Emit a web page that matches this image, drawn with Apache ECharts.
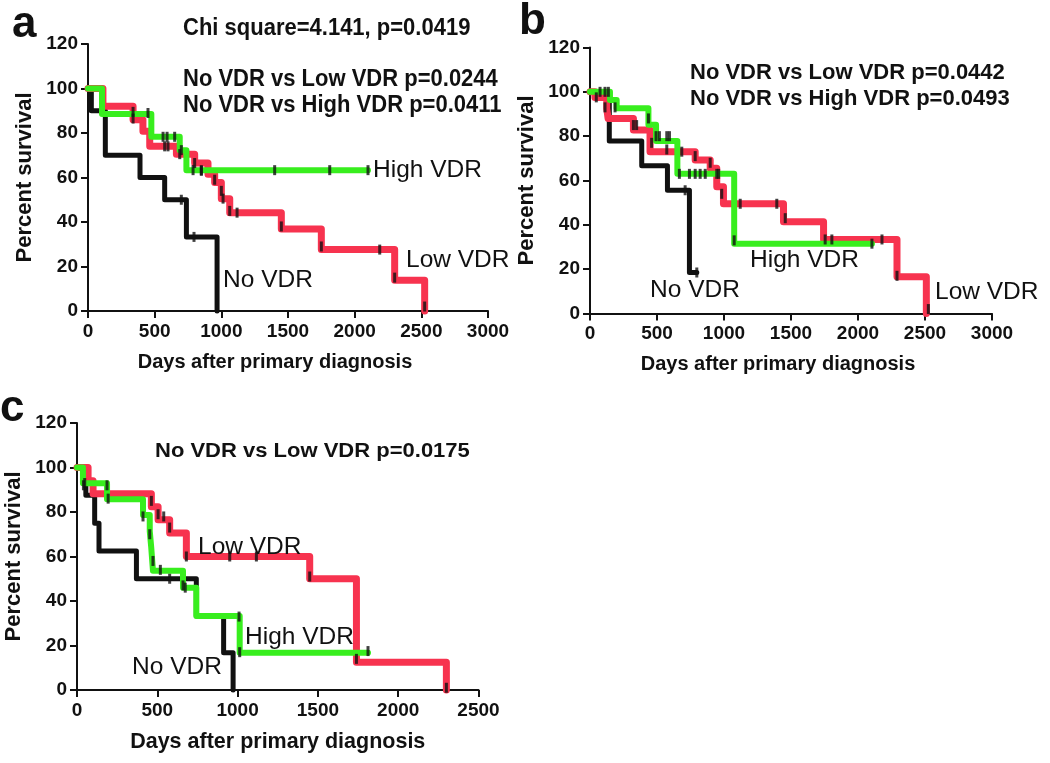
<!DOCTYPE html>
<html>
<head>
<meta charset="utf-8">
<script src="https://cdn.jsdelivr.net/npm/echarts@6/dist/echarts.min.js"></script>
<style>
html,body{margin:0;padding:0;background:#fff;}
#c{width:1050px;height:763px;}
</style>
</head>
<body>
<div id="c"></div>
<script>
// ---------- Panel a ----------
const aNoVDR = [[0,100],[25,90],[130,70],[390,60],[575,50],[738,33.3],[968,0]];
const aLowVDR = [[0,100],[112,92],[338,86],[412,80.8],[463,74],[663,70.5],[800,66.5],[900,61.5],[950,57.7],[1000,50.5],[1063,44.2],[1450,36.8],[1750,27.6],[2300,13.8],[2525,0]];
const aHighVDR = [[0,100],[105,88.5],[475,78.3],[688,72.3],[738,63.3],[2100,63.3]];
const aCensor = [[700,50],[795,33.3],
  [338,86.5],[575,74],[600,74],[688,70.5],[800,66.5],[850,63],[950,59],[1000,54],[1013,50.5],[1063,45],[1118,44.2],[1450,38],[1750,29],[2188,27.6],[2300,15],[2525,2],
  [338,89.5],[450,89],[563,78.3],[593,78.3],[650,78.3],[700,72.3],[788,63.3],[850,63.3],[1400,63.3],[1813,63.3],[2100,63.3]];
// ---------- Panel b ----------
const bNoVDR = [[0,100],[144,77.8],[386,66.7],[578,55.6],[742,18.5],[797,18.5]];
const bLowVDR = [[0,100],[37,97.5],[125,92.5],[135,88],[324,82.8],[448,73],[785,69.2],[897,65.5],[946,57.2],[996,49.5],[1444,41.4],[1743,33.4],[2291,16.6],[2510,0]];
const bHighVDR = [[0,100],[149,96.3],[199,92.6],[436,85.2],[493,77.8],[652,63],[1076,31.5],[2104,31.5]];
const bCensor = [[75,100],[112,100],[137,100],[710,55.6],[797,18.5],
  [47,97.5],[112,93],[324,85],[348,85],[460,77],[573,74],[685,73],[785,71],[897,68],[946,63],[983,54],[1121,49.5],[1394,49.5],[1457,43],[1755,33.4],[1805,33.4],[2179,33.4],[2291,17],[2525,2],
  [187,93],[436,88],[493,80],[518,80],[573,80],[593,80],[667,63],[742,63],[785,63],[822,63],[860,63],[960,63],[1076,33],[2104,31.5]];
// ---------- Panel c ----------
const cNoVDR = [[0,100],[55,87.5],[110,75],[137,62.5],[370,50],[743,33.3],[913,16.7],[972,0]];
const cLowVDR = [[0,100],[69,94.1],[100,88.2],[463,82.4],[505,76.5],[577,70.6],[681,60],[1449,50],[1740,12.5],[2300,0]];
const cHighVDR = [[0,100],[37,92.9],[187,85.7],[411,78.6],[453,71.4],[462,64.3],[473,53.6],[660,45.9],[743,33.3],[1013,16.7],[1812,16.7]];
const cCensor = [[48,93],[577,50],
  [463,85],[505,79],[540,78],[577,73],[681,60],[951,60],[1117,60],[1449,51],[1740,14],[2300,1],
  [40,92],[187,92],[194,86],[411,78],[453,70],[473,58],[519,54],[660,47],[674,46],[1009,33],[1013,17],[1812,17.5]];

// ---------- Text ----------
const panelLetters = ['a','b','c'];
const statsA = ['Chi square=4.141, p=0.0419','No VDR vs Low VDR p=0.0244','No VDR vs High VDR p=0.0411'];
const statsB = ['No VDR vs Low VDR p=0.0442','No VDR vs High VDR p=0.0493'];
const statsC = ['No VDR vs Low VDR p=0.0175'];
const groupNames = ['No VDR','Low VDR','High VDR'];
const yName = 'Percent survival';
const xName = 'Days after primary diagnosis';

const FONT = '"Liberation Sans", Arial, Helvetica, sans-serif';
const INK = '#111';
const RED = '#f7334f';
const GREEN = '#38ee1e';

const chart = echarts.init(document.getElementById('c'));

function xAx(i, max, pad, nameSize){
  return {type:'value', gridIndex:i, min:0, max:max, interval:500,
    axisLine:{show:true, onZero:false, lineStyle:{color:INK, width:2}},
    axisTick:{show:true, length:7, lineStyle:{color:INK, width:2}},
    splitLine:{show:false},
    axisLabel:{fontSize:19, fontWeight:'bold', color:INK, fontFamily:FONT, margin:11, formatter:v=>String(v)},
    name:xName, nameLocation:'middle', nameGap:41,
    nameTextStyle:{fontSize:nameSize, fontWeight:'bold', color:INK, fontFamily:FONT, padding:pad}};
}
function yAx(i){
  return {type:'value', gridIndex:i, min:0, max:120, interval:20,
    axisLine:{show:true, onZero:false, lineStyle:{color:INK, width:2}},
    axisTick:{show:true, length:7, lineStyle:{color:INK, width:2}},
    splitLine:{show:false},
    axisLabel:{fontSize:19, fontWeight:'bold', color:INK, fontFamily:FONT, margin:10, formatter:v=>String(v)},
    name:yName, nameLocation:'middle', nameGap:52,
    nameTextStyle:{fontSize:22, fontWeight:'bold', color:INK, fontFamily:FONT}};
}
function km(i, data, color, width, z){
  return {type:'line', xAxisIndex:i, yAxisIndex:i, data:data, step:'end', symbol:'none', showSymbol:false,
    lineStyle:{color:color, width:width, join:'round', cap:'round'}, z:z, silent:true, clip:false};
}
function cens(i, data){
  return {type:'scatter', xAxisIndex:i, yAxisIndex:i, data:data, symbol:'rect', symbolSize:[3,10],
    itemStyle:{color:INK}, z:10, silent:true};
}
function txt(x, y, s, size, weight, sy){
  return {type:'text', x:x, y:y, scaleY:sy||1, z:100,
    style:{text:s, fontSize:size, fontWeight:weight, fontFamily:FONT, fill:INK, align:'left', verticalAlign:'middle'}};
}

const option = {
  animation:false,
  backgroundColor:'#fff',
  grid:[
    {left:88, top:44, width:400, height:267},
    {left:590, top:47.5, width:402, height:266},
    {left:77, top:423, width:401.5, height:267}
  ],
  xAxis:[xAx(0,3000,[0,26,0,0],20), xAx(1,3000,[0,26,0,0],20), xAx(2,2500,[0,0,0,0],21.5)],
  yAxis:[yAx(0), yAx(1), yAx(2)],
  series:[
    km(0,aNoVDR,INK,5,2), km(0,aLowVDR,RED,7,3), km(0,aHighVDR,GREEN,6,4), cens(0,aCensor),
    km(1,bNoVDR,INK,5,2), km(1,bLowVDR,RED,7,3), km(1,bHighVDR,GREEN,6,4), cens(1,bCensor),
    km(2,cNoVDR,INK,5,2), km(2,cLowVDR,RED,7,3), km(2,cHighVDR,GREEN,6,4), cens(2,cCensor)
  ],
  graphic:[
    txt(12,25,panelLetters[0],44,'bold'),
    txt(519,22,panelLetters[1],44,'bold'),
    txt(0,409,panelLetters[2],44,'bold'),
    txt(183,28,statsA[0],22,'bold',1.08),
    txt(183,79,statsA[1],22,'bold',1.08),
    txt(183,105,statsA[2],22,'bold',1.08),
    txt(690,72.5,statsB[0],22,'bold',1.0),
    txt(690,99,statsB[1],22,'bold',1.0),
    txt(155,451.5,statsC[0],22,'bold',0.92),
    txt(373,170,groupNames[2],24.5,'normal'),
    txt(406,260,groupNames[1],24.5,'normal'),
    txt(223,280,groupNames[0],24.5,'normal'),
    txt(650,290,groupNames[0],24.5,'normal'),
    txt(750,260,groupNames[2],24.5,'normal'),
    txt(935,292,groupNames[1],24.5,'normal'),
    txt(198,547,groupNames[1],24.5,'normal'),
    txt(245,637,groupNames[2],24.5,'normal'),
    txt(132,667,groupNames[0],24.5,'normal')
  ]
};
chart.setOption(option);
</script>
</body>
</html>
